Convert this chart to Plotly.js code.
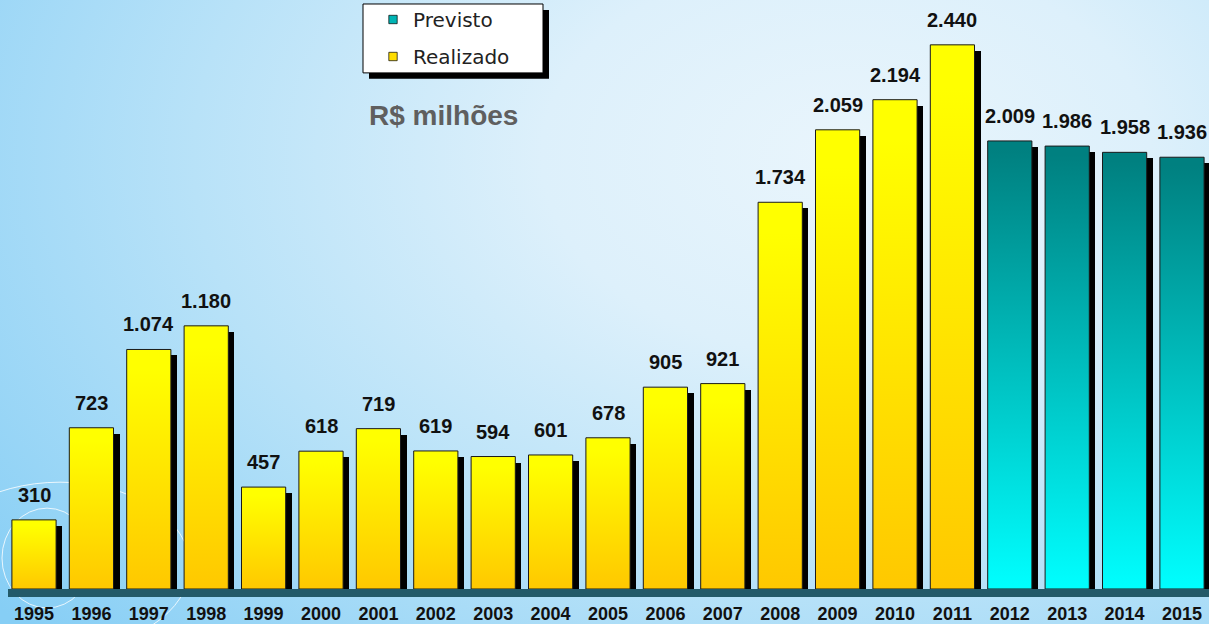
<!DOCTYPE html>
<html>
<head>
<meta charset="utf-8">
<script src="https://cdn.plot.ly/plotly-3.0.1.min.js"></script>
<style>
html,body{margin:0;padding:0;width:1209px;height:624px;overflow:hidden;}
body{background:radial-gradient(ellipse 90% 115% at 70% 25%, #e9f5fc 0%, #ddf0fb 28%, #b8e2f8 60%, #86cef5 100%);}
#chart{width:1209px;height:624px;}
</style>
</head>
<body>
<div id="chart"></div>
<script>
// ---- data ----
const realYears = ['1995','1996','1997','1998','1999','2000','2001','2002','2003','2004','2005','2006','2007','2008','2009','2010','2011'];
const realValues = [310,723,1074,1180,457,618,719,619,594,601,678,905,921,1734,2059,2194,2440];
const prevYears = ['2012','2013','2014','2015'];
const prevValues = [2009,1986,1958,1936];
const allYears = realYears.concat(prevYears);
const allValues = realValues.concat(prevValues);
const unitLabel = 'R$ milhões';

// ---- geometry helpers ----
const W = 1209, H = 624, plotH = 589;
const pxPerUnit = 0.2234;
const yMax = plotH / pxPerUnit;
const slot = 57.4;
const xStart = -34 / slot, xEnd = (W - 34) / slot;
const barW = 0.77;
const shadowDx = 6 / slot;
const shadowDy = 6 / pxPerUnit;

function fmt(v){ return String(v).replace(/\B(?=(\d{3})+(?!\d))/g, '.'); }

const shadow = {
  type:'bar', x: allYears, y: allValues, base: allValues.map(()=>-shadowDy),
  width: barW, offset: -barW/2 + shadowDx,
  marker:{color:'#000000', line:{width:0}}, showlegend:false, hoverinfo:'skip'
};
const prev = {
  type:'bar', name:'Previsto', x: prevYears, y: prevValues, legendgroup:'a', legendrank:1,
  width: barW, offset: -barW/2,
  marker:{color:'#00b4b4', line:{color:'#1a1a1a', width:1}}
};
const real = {
  type:'bar', name:'Realizado', x: realYears, y: realValues, legendgroup:'b', legendrank:2,
  width: barW, offset: -barW/2,
  marker:{color:'#ffdd00', line:{color:'#1a1a1a', width:1}}
};

const annotations = allValues.map((v,i)=>({
  x: i, y: v, xref:'x', yref:'y', yanchor:'bottom', xanchor:'center', yshift: 12,
  text: '<b>'+fmt(v)+'</b>', showarrow:false,
  font:{family:'Liberation Sans, Arial, sans-serif', size:20, color:'#111111'}
}));

function px(x){return x/W;}
function py(y){return (plotH - y)/plotH;}

annotations.push({
  x: px(443), y: py(115), xref:'paper', yref:'paper', xanchor:'center', yanchor:'middle', text:'<b>'+unitLabel+'</b>',
  showarrow:false, font:{family:'Liberation Sans, Arial, sans-serif', size:28, color:'#5f5f5f'}
});

const shapes = [
  {type:'rect', xref:'paper', yref:'paper', x0:px(369), x1:px(549), y0:py(78), y1:py(9), fillcolor:'#000', line:{width:0}, layer:'above'},
  {type:'rect', xref:'paper', yref:'paper', x0:px(363), x1:px(543), y0:py(72), y1:py(3), fillcolor:'#ffffff', line:{color:'#000', width:1}, layer:'above'},
  {type:'rect', xref:'paper', yref:'paper', x0:px(8), x1:1, y0:py(597), y1:py(589), fillcolor:'#235a69', line:{width:0}, layer:'above'},
  {type:'circle', xref:'paper', yref:'paper', x0:px(2), x1:px(92), y0:py(608), y1:py(508), fillcolor:'rgba(0,0,0,0)', line:{color:'rgba(255,255,255,0.8)', width:1}, layer:'below'},
  {type:'circle', xref:'paper', yref:'paper', x0:px(-70), x1:px(190), y0:py(650), y1:py(482), fillcolor:'rgba(0,0,0,0)', line:{color:'rgba(255,255,255,0.8)', width:1}, layer:'below'}
];

const layout = {
  width: W, height: H,
  margin:{l:0, r:0, t:0, b:H-plotH, pad:0},
  paper_bgcolor:'rgba(0,0,0,0)', plot_bgcolor:'rgba(0,0,0,0)',
  barmode:'overlay', bargap:0,
  showlegend:true,
  legend:{x:px(373), y:py(-1), xanchor:'left', yanchor:'top', bgcolor:'rgba(0,0,0,0)', borderwidth:0,
          font:{family:'DejaVu Sans, sans-serif', size:20, color:'#222'}, tracegroupgap:8, traceorder:'grouped'},
  xaxis:{type:'category', categoryorder:'array', categoryarray: allYears, range:[xStart, xEnd],
         showgrid:false, zeroline:false, showline:false, ticks:'', ticklabelstandoff:12,
         tickfont:{family:'Liberation Sans, Arial, sans-serif', size:18, color:'#111', weight:'bold'}, fixedrange:true},
  yaxis:{range:[0, yMax], visible:false, showgrid:false, zeroline:false, fixedrange:true},
  annotations: annotations,
  shapes: shapes
};

const gd = document.getElementById('chart');
Plotly.newPlot(gd, [shadow, prev, real], layout, {displayModeBar:false, staticPlot:true}).then(()=>{
  const svg = gd.querySelector('svg.main-svg');
  const NS = 'http://www.w3.org/2000/svg';
  let defs = svg.querySelector('defs');
  if(!defs){ defs = document.createElementNS(NS,'defs'); svg.insertBefore(defs, svg.firstChild); }
  function grad(id, top, bottom, midStop){
    const g = document.createElementNS(NS,'linearGradient');
    g.setAttribute('id', id); g.setAttribute('x1','0'); g.setAttribute('y1','0'); g.setAttribute('x2','0'); g.setAttribute('y2','1');
    [[0,top],[midStop,top],[1,bottom]].forEach(([o,c])=>{
      const s = document.createElementNS(NS,'stop'); s.setAttribute('offset', o); s.setAttribute('stop-color', c); g.appendChild(s);
    });
    defs.appendChild(g);
  }
  grad('gReal', '#ffff00', '#ffc800', 0.08);
  grad('gPrev', '#008080', '#00ffff', 0.02);
  const traces = gd.querySelectorAll('.barlayer .trace');
  if(traces[1]) traces[1].querySelectorAll('path').forEach(p=>{p.style.fill='url(#gPrev)';});
  if(traces[2]) traces[2].querySelectorAll('path').forEach(p=>{p.style.fill='url(#gReal)';});
  gd.querySelectorAll('.legend .legendpoints path').forEach(p=>{
    const t = p.getAttribute('transform') || '';
    p.setAttribute('transform', t + ' scale(0.7)');
    p.style.strokeWidth = '1px';
    p.style.stroke = '#000';
  });
});
</script>
</body>
</html>
